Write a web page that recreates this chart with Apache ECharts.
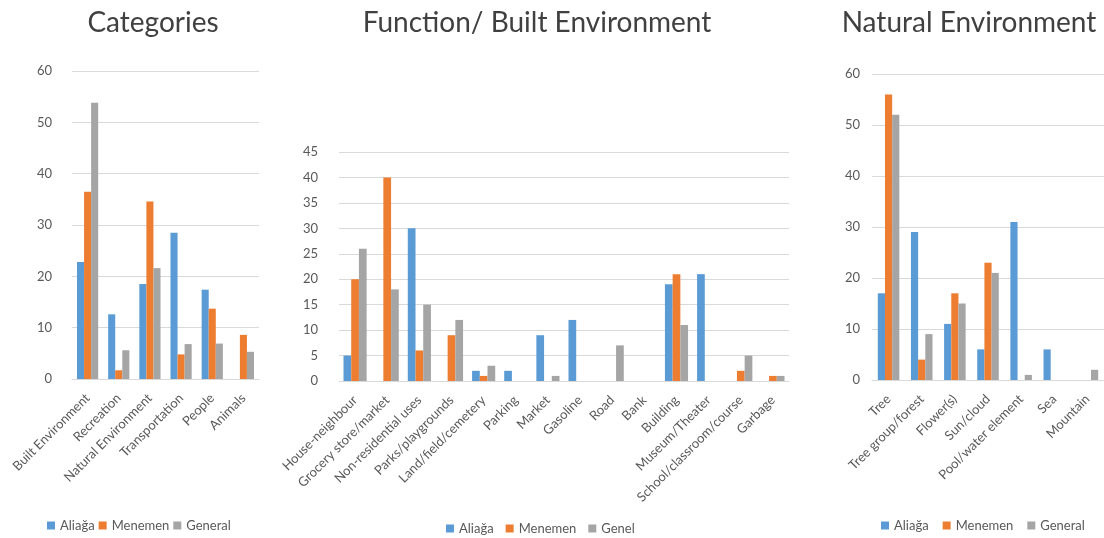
<!DOCTYPE html>
<html><head><meta charset="utf-8">
<script src="https://cdn.jsdelivr.net/npm/echarts@6/dist/echarts.min.js"></script>
<style>html,body{margin:0;padding:0;background:#fff}#c{width:1104px;height:538px}</style>
</head><body><div id="c"></div>
<script>
// Chart 1: Categories
const catLabels = ['Built Environment','Recreation','Natural Environment','Transportation','People','Animals'];
const catAliaga = [22.8, 12.6, 18.5, 28.5, 17.4, 0];
const catMenemen = [36.5, 1.7, 34.6, 4.8, 13.7, 8.6];
const catGeneral = [53.8, 5.6, 21.6, 6.8, 6.9, 5.3];
const catTicks = {min: 0, max: 60, interval: 10};

// Chart 2: Function / Built Environment
const funLabels = ['House-neighbour','Grocery store/market','Non-residential uses','Parks/playgrounds','Land/field/cemetery','Parking','Market','Gasoline','Road','Bank','Building','Museum/Theater','School/classroom/course','Garbage'];
const funAliaga = [5, 0, 30, 0, 2, 2, 9, 12, 0, 0, 19, 21, 0, 0];
const funMenemen = [20, 40, 6, 9, 1, 0, 0, 0, 0, 0, 21, 0, 2, 1];
const funGenel = [26, 18, 15, 12, 3, 0, 1, 0, 7, 0, 11, 0, 5, 1];
const funTicks = {min: 0, max: 45, interval: 5};

// Chart 3: Natural Environment
const natLabels = ['Tree','Tree group/forest','Flower(s)','Sun/cloud','Pool/water element','Sea','Mountain'];
const natAliaga = [17, 29, 11, 6, 31, 6, 0];
const natMenemen = [56, 4, 17, 23, 0, 0, 0];
const natGeneral = [52, 9, 15, 21, 1, 0, 2];
const natTicks = {min: 0, max: 60, interval: 10};

const BLUE = '#5B9BD5', ORANGE = '#ED7D31', GREY = '#A5A5A5';
const TXT = '#595959', LINE = '#D9D9D9', TITLE = '#404040';
const FONT = 'Lato, "Open Sans", sans-serif';

function xAx(i, data) {
  return {gridIndex: i, type: 'category', data: data,
    axisLine: {lineStyle: {color: LINE}}, axisTick: {show: false},
    axisLabel: {rotate: 45, interval: 0, color: TXT, fontSize: 13, fontFamily: FONT, margin: 17}};
}
function yAx(i, t, margin) {
  return {gridIndex: i, type: 'value', min: t.min, max: t.max, interval: t.interval,
    axisLine: {show: false}, axisTick: {show: false},
    splitLine: {lineStyle: {color: LINE}},
    axisLabel: {color: TXT, fontSize: 13, fontFamily: FONT, margin: margin}};
}
function bars(i, name, data, color, gap) {
  return {type: 'bar', name: name, xAxisIndex: i, yAxisIndex: i, data: data,
    itemStyle: {color: color}, barGap: '0%', barCategoryGap: gap, animation: false};
}
function title(text, cx) {
  return {text: text, left: cx, top: 4, textAlign: 'center',
    textStyle: {color: TITLE, fontSize: 28, fontWeight: 'normal', fontFamily: FONT}};
}
function legend(names, left, top, gap) {
  return {data: names, left: left, top: top, itemWidth: 8, itemHeight: 8, itemGap: gap,
    icon: 'rect', textStyle: {color: TXT, fontSize: 13, fontFamily: FONT}};
}

const chart = echarts.init(document.getElementById('c'));
chart.setOption({
  animation: false,
  backgroundColor: '#fff',
  title: [title('Categories', 148), title('Function/ Built Environment', 532), title('Natural Environment', 964)],
  legend: [
    legend(['Aliağa','Menemen','General'], 42, 514, 4),
    legend(['Aliağa','Menemen','Genel'], 441, 517, 12),
    legend(['Aliağa','Menemen','General'], 876, 514, 14)
  ],
  grid: [
    {left: 72, top: 71, width: 187, height: 308},
    {left: 339, top: 152, width: 450, height: 229},
    {left: 872, top: 74, width: 238, height: 306}
  ],
  xAxis: [xAx(0, catLabels), xAx(1, funLabels), xAx(2, natLabels)],
  yAxis: [yAx(0, catTicks, 20), yAx(1, funTicks, 21), yAx(2, natTicks, 12)],
  series: [
    bars(0, 'Aliağa', catAliaga, BLUE, '32%'),
    bars(0, 'Menemen', catMenemen, ORANGE, '32%'),
    bars(0, 'General', catGeneral, GREY, '32%'),
    bars(1, 'Aliağa', funAliaga, BLUE, '28%'),
    bars(1, 'Menemen', funMenemen, ORANGE, '28%'),
    bars(1, 'Genel', funGenel, GREY, '28%'),
    bars(2, 'Aliağa', natAliaga, BLUE, '35%'),
    bars(2, 'Menemen', natMenemen, ORANGE, '35%'),
    bars(2, 'General', natGeneral, GREY, '35%')
  ]
});
</script></body></html>
